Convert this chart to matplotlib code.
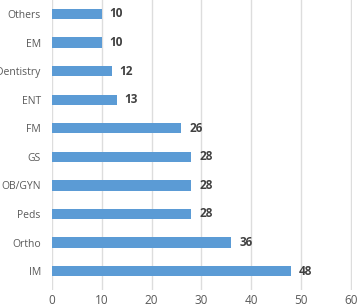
import matplotlib
matplotlib.use("Agg")
import matplotlib.pyplot as plt

# bottom to top
specialties = ["IM", "Ortho", "Peds", "OB/GYN", "GS", "FM", "ENT", "Dentistry", "EM", "Others"]
counts = [48, 36, 28, 28, 28, 26, 13, 12, 10, 10]
xticks = [0, 10, 20, 30, 40, 50, 60]

plt.rcParams['font.family'] = ['Open Sans', 'DejaVu Sans']

fig = plt.figure(figsize=(3.58, 3.06), dpi=100)
ax = fig.add_axes([0.145, 0.052, 0.838, 0.948])

pos = list(range(len(specialties)))
ax.barh(pos, counts, height=0.36, color="#5B9BD5", zorder=3)

for y, v in zip(pos, counts):
    ax.text(v + 1.6, y, str(v), va="center", ha="left",
            fontsize=8.5, fontweight="bold", color="#404040")

ax.set_xlim(0, 60.2)
ax.set_ylim(-0.665, 9.49)
ax.set_xticks(xticks)
ax.set_yticks(pos)
ax.set_yticklabels(specialties)
ax.tick_params(axis="y", length=0, labelsize=7.5, labelcolor="#595959", pad=8)
ax.tick_params(axis="x", length=0, labelsize=8.5, labelcolor="#595959", pad=3)
ax.xaxis.grid(True, color="#DDDDDD", linewidth=1, zorder=0)
for s in ax.spines.values():
    s.set_visible(False)

fig.savefig("out.png", dpi=100)
